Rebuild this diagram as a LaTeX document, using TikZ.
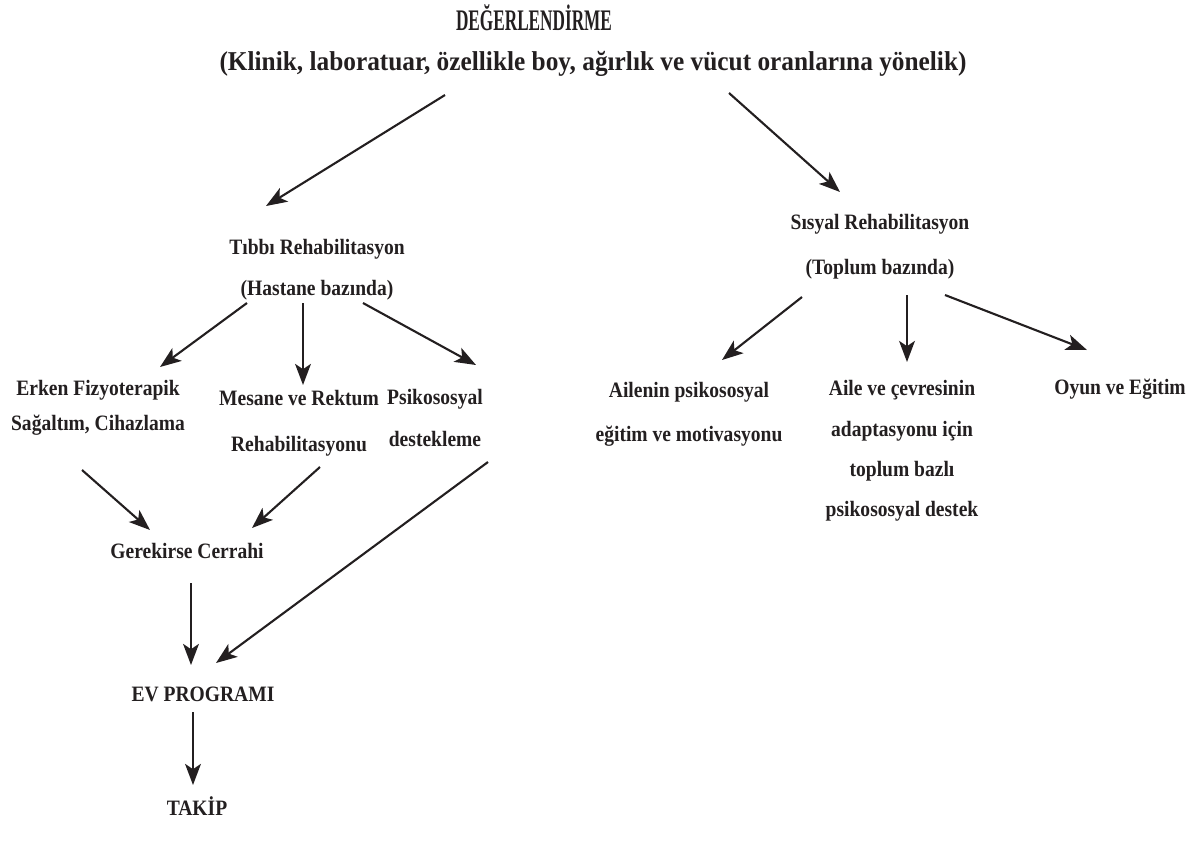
\documentclass[tikz,border=0pt]{standalone}
\usepackage{fontspec}
\setmainfont{Liberation Serif}[FakeStretch=0.89]
\newfontfamily\headfont{Liberation Serif}[FakeStretch=0.93]
\usetikzlibrary{arrows.meta}
\definecolor{ink}{RGB}{35,31,32}

\begin{document}
\begin{tikzpicture}[x=0.02cm, y=-0.02cm,
    txt/.style={font=\fontsize{12.5}{14}\selectfont\bfseries, text=ink, inner sep=0pt, align=center},
    head/.style={font=\headfont\fontsize{15.5}{17}\selectfont\bfseries, text=ink, inner sep=0pt},
    arr/.style={-{Stealth[length=12pt,width=9pt,inset=3pt]}, line width=1.2pt, draw=ink}]
    \useasboundingbox (0,0) rectangle (1187,843);
    % headings
    \node[head, font=\headfont\fontsize{17}{19}\selectfont\bfseries] (deger) at (534,18) {\scalebox{0.62}[1]{DEĞERLENDİRME}};
    \node[head] (klinik) at (593,64) {(Klinik, laboratuar, özellikle boy, ağırlık ve vücut oranlarına yönelik)};
    \node[txt] (tibbi) at (317,249) {Tıbbı Rehabilitasyon};
    \node[txt] (hastane) at (317,290) {(Hastane bazında)};
    \node[txt] (sosyal) at (880,224) {Sısyal Rehabilitasyon};
    \node[txt] (toplum) at (880,269) {(Toplum bazında)};
    % medical branch
    \node[txt] (erken) at (98,407.5) {Erken Fizyoterapik\\[6pt] Sağaltım, Cihazlama};
    \node[txt] (mesane) at (299,423.5) {Mesane ve Rektum\\[12pt] Rehabilitasyonu};
    \node[txt] (psiko) at (435,418) {Psikososyal\\[10pt] destekleme};
    \node[txt] (gerekirse) at (187,551) {Gerekirse Cerrahi};
    \node[txt] (ev) at (203,694) {EV PROGRAMI};
    \node[txt] (takip) at (197,806) {TAKİP};
    % social branch
    \node[txt] (ailenin) at (689,414) {Ailenin psikososyal\\[11pt] eğitim ve motivasyonu};
    \node[txt] (aile) at (902,451) {Aile ve çevresinin\\[9pt] adaptasyonu için\\[9pt] toplum bazlı\\[9pt] psikososyal destek};
    \node[txt] (oyun) at (1120,389) {Oyun ve Eğitim};
    % arrows
    \draw[arr] ([shift={(-148,31)}]klinik.center) -- ([shift={(-51,-43)}]tibbi.center);
    \draw[arr] ([shift={(136,29)}]klinik.center) -- ([shift={(-40,-32)}]sosyal.center);
    \draw[arr] ([shift={(-70,13)}]hastane.center) -- ([shift={(62,-40.5)}]erken.center);
    \draw[arr] ([shift={(-14,13)}]hastane.center) -- ([shift={(4,-38.5)}]mesane.center);
    \draw[arr] ([shift={(46,13)}]hastane.center) -- ([shift={(41,-53)}]psiko.center);
    \draw[arr] ([shift={(-78,28)}]toplum.center) -- ([shift={(33,-54)}]ailenin.center);
    \draw[arr] ([shift={(27,26)}]toplum.center) -- ([shift={(5,-89)}]aile.center);
    \draw[arr] ([shift={(65,26)}]toplum.center) -- ([shift={(-33,-39)}]oyun.center);
    \draw[arr] ([shift={(-16,62.5)}]erken.center) -- ([shift={(-37,-21)}]gerekirse.center);
    \draw[arr] ([shift={(21,43.5)}]mesane.center) -- ([shift={(65,-23)}]gerekirse.center);
    \draw[arr] ([shift={(53,44)}]psiko.center) -- ([shift={(13,-31)}]ev.center);
    \draw[arr] ([shift={(4,32)}]gerekirse.center) -- ([shift={(-12,-29)}]ev.center);
    \draw[arr] ([shift={(-10,18)}]ev.center) -- ([shift={(-4,-21)}]takip.center);
\end{tikzpicture}
\end{document}
